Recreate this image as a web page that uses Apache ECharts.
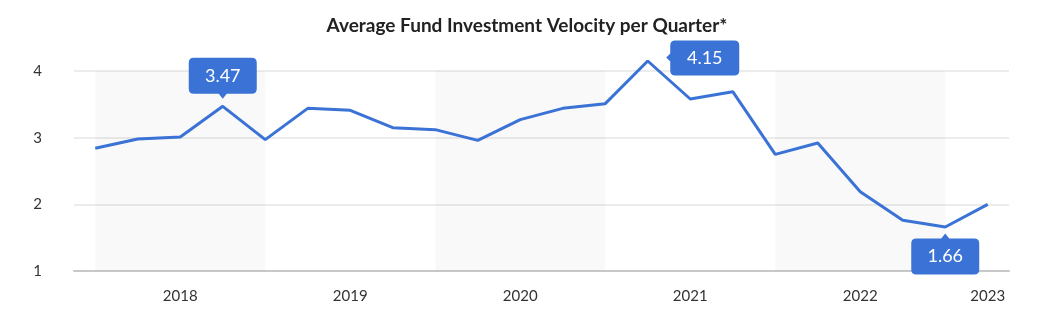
<!DOCTYPE html>
<html>
<head>
<meta charset="utf-8">
<script src="https://cdn.jsdelivr.net/npm/echarts@6/dist/echarts.min.js"></script>
<style>
html,body{margin:0;padding:0;background:#fff;}
#chart{width:1054px;height:326px;}
</style>
</head>
<body>
<div id="chart"></div>
<script>
// ---- data ----
const title = 'Average Fund Investment Velocity per Quarter*';
const quarters = [
  '2018 Q1','2018 Q2','2018 Q3','2018 Q4',
  '2019 Q1','2019 Q2','2019 Q3','2019 Q4',
  '2020 Q1','2020 Q2','2020 Q3','2020 Q4',
  '2021 Q1','2021 Q2','2021 Q3','2021 Q4',
  '2022 Q1','2022 Q2','2022 Q3','2022 Q4',
  '2023 Q1','2023 Q2'
];
const velocity = [
  2.84, 2.98, 3.01, 3.47,
  2.97, 3.44, 3.41, 3.15,
  3.12, 2.96, 3.27, 3.44,
  3.51, 4.15, 3.58, 3.69,
  2.75, 2.92, 2.19, 1.76,
  1.66, 2.00
];
const yTicks = [1, 2, 3, 4];
const yHeadroom = 4.3; // axis extent above the top tick (no label / line)
const shadedYears = ['2018', '2020', '2022'];
const callouts = [
  { quarter: '2018 Q4', side: 'top' },
  { quarter: '2021 Q2', side: 'right' },
  { quarter: '2023 Q1', side: 'bottom' }
];

// ---- styles ----
const BLUE = '#3a72d5';
const FONT = 'Lato, "Open Sans", sans-serif';
const shapes = {
  top: {
    symbol: 'path://M5,0 L63,0 Q68,0 68,5 L68,31 Q68,36 63,36 L38,36 L34,41 L30,36 L5,36 Q0,36 0,31 L0,5 Q0,0 5,0 Z',
    size: [68, 41], offset: [0, -28], labelOffset: [0, -2.5]
  },
  bottom: {
    symbol: 'path://M5,5 L30,5 L34,0 L38,5 L63,5 Q68,5 68,10 L68,36 Q68,41 63,41 L5,41 Q0,41 0,36 L0,10 Q0,5 5,5 Z',
    size: [68, 41], offset: [0, 27], labelOffset: [0, 2.5]
  },
  right: {
    symbol: 'path://M9,0 L68,0 Q73,0 73,5 L73,30 Q73,35 68,35 L9,35 Q4,35 4,30 L4,21 L0,17 L4,13 L4,5 Q4,0 9,0 Z',
    size: [73, 35], offset: [55, -3], labelOffset: [2, 0]
  }
};

const markPoints = callouts.map(c => {
  const i = quarters.indexOf(c.quarter);
  const s = shapes[c.side];
  return {
    coord: [c.quarter, velocity[i]],
    value: velocity[i],
    symbol: s.symbol,
    symbolSize: s.size,
    symbolOffset: s.offset,
    symbolKeepAspect: false,
    itemStyle: { color: BLUE },
    label: {
      show: true, position: 'inside', offset: s.labelOffset,
      color: '#fff', fontSize: 18, fontFamily: FONT,
      formatter: p => Number(p.value).toFixed(2)
    }
  };
});

const bands = shadedYears.map(y => [
  { xAxis: y + ' Q1', yAxis: yTicks[0] },
  { xAxis: (Number(y) + 1) + ' Q1', yAxis: yTicks[yTicks.length - 1] }
]);

const chart = echarts.init(document.getElementById('chart'), null, { renderer: 'canvas' });
chart.setOption({
  animation: false,
  backgroundColor: '#fff',
  title: {
    text: title, left: 'center', top: 11,
    textStyle: { fontFamily: FONT, fontSize: 19, fontWeight: 'bold', color: '#222' }
  },
  grid: { left: 74, right: 45, top: 51, bottom: 55 },
  xAxis: {
    type: 'category',
    data: quarters,
    boundaryGap: true,
    axisLine: { lineStyle: { color: '#c8c8c8', width: 2 } },
    axisTick: { show: false },
    axisLabel: {
      color: '#333', fontSize: 15, fontFamily: FONT, margin: 18,
      interval: (idx) => idx % 4 === 2 || idx === quarters.length - 1,
      formatter: v => v.split(' ')[0]
    },
    splitLine: { show: false }
  },
  yAxis: {
    type: 'value',
    min: yTicks[0], max: yHeadroom, interval: 1,
    axisLine: { show: false },
    axisTick: { show: false },
    axisLabel: { color: '#333', fontSize: 15, fontFamily: FONT, margin: 32, showMaxLabel: false },
    splitLine: { lineStyle: { color: '#ececec', width: 2 }, showMaxLine: false }
  },
  series: [{
    type: 'line',
    data: velocity,
    symbol: 'none',
    lineStyle: { color: BLUE, width: 3 },
    itemStyle: { color: BLUE },
    z: 3,
    markArea: {
      silent: true,
      itemStyle: { color: 'rgba(0,0,0,0.025)' },
      data: bands
    },
    markPoint: {
      silent: true,
      data: markPoints
    }
  }]
});
</script>
</body>
</html>
